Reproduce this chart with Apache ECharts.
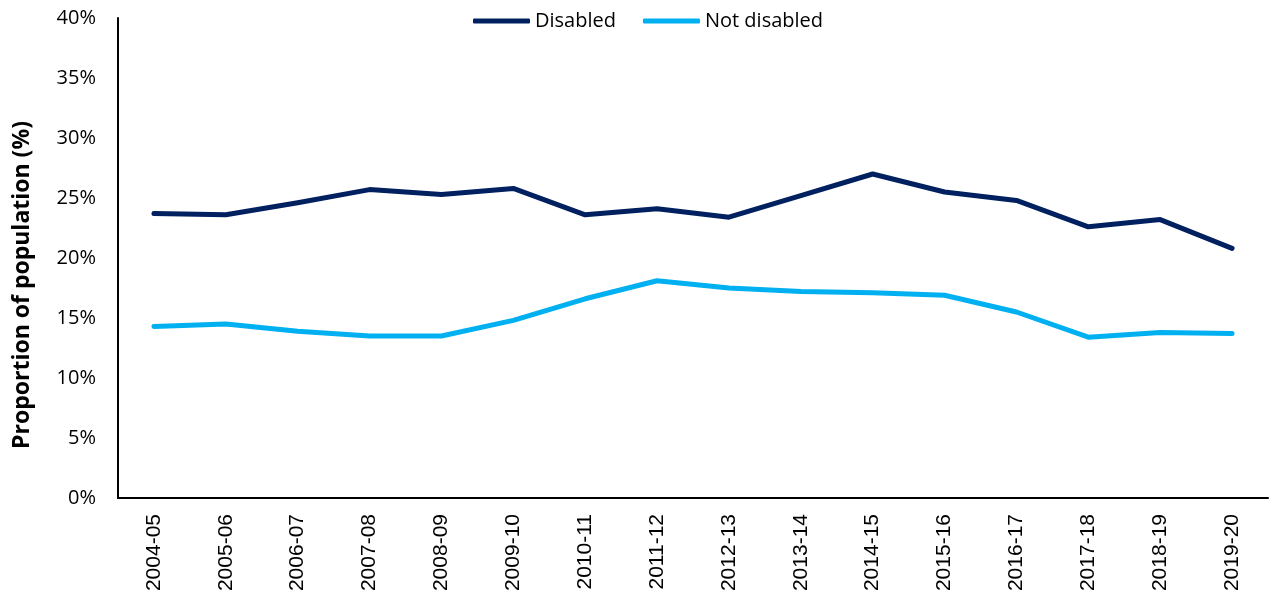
<!DOCTYPE html>
<html>
<head>
<meta charset="utf-8">
<script src="https://cdn.jsdelivr.net/npm/echarts@6/dist/echarts.min.js"></script>
<style>
  html, body { margin: 0; padding: 0; background: #fff; }
  #chart { width: 1269px; height: 599px; }
</style>
</head>
<body>
<div id="chart"></div>
<script>
// Financial years along the x axis
const years = ['2004-05', '2005-06', '2006-07', '2007-08', '2008-09', '2009-10', '2010-11', '2011-12',
               '2012-13', '2013-14', '2014-15', '2015-16', '2016-17', '2017-18', '2018-19', '2019-20'];

// Proportion of each group (%)
const disabled    = [23.7, 23.6, 24.6, 25.7, 25.3, 25.8, 23.6, 24.1, 23.4, 25.2, 27.0, 25.5, 24.8, 22.6, 23.2, 20.8];
const notDisabled = [14.3, 14.5, 13.9, 13.5, 13.5, 14.8, 16.6, 18.1, 17.5, 17.2, 17.1, 16.9, 15.5, 13.4, 13.8, 13.7];

// Y axis range and step
const yMin = 0, yMax = 40, yStep = 5;
const yTitle = 'Proportion of population (%)';

const chart = echarts.init(document.getElementById('chart'), null, { renderer: 'canvas' });

chart.setOption({
  animation: false,
  backgroundColor: '#ffffff',
  legend: {
    left: 473,
    top: 11,
    padding: 0,
    icon: 'roundRect',
    itemWidth: 57,
    itemHeight: 5,
    itemGap: 27,
    textStyle: { fontFamily: 'Open Sans', fontSize: 20, color: '#000' },
    data: ['Disabled', 'Not disabled']
  },
  // Rotated y-axis title, sitting a little below the plot's middle
  graphic: [{
    type: 'text',
    x: 22,
    y: 285,
    rotation: Math.PI / 2,
    style: {
      text: yTitle,
      fontFamily: 'Open Sans',
      fontSize: 23,
      fontWeight: 'bold',
      fill: '#000',
      align: 'center',
      verticalAlign: 'middle'
    }
  }],
  grid: { left: 118, top: 18, right: 1, bottom: 101, containLabel: false, outerBoundsMode: 'none' },
  xAxis: {
    type: 'category',
    data: years,
    boundaryGap: true,
    axisLine: { lineStyle: { color: '#000', width: 2 } },
    axisTick: { show: false },
    axisLabel: {
      rotate: 90,
      margin: 16,
      interval: 0,
      fontFamily: 'Liberation Sans',
      fontSize: 21,
      color: '#000'
    }
  },
  yAxis: {
    type: 'value',
    min: yMin,
    max: yMax,
    interval: yStep,
    axisLine: { show: true, lineStyle: { color: '#000', width: 2 } },
    axisTick: { show: false },
    splitLine: { show: false },
    axisLabel: {
      margin: 22,
      fontFamily: 'Open Sans',
      fontSize: 20,
      color: '#000',
      formatter: v => v + '%'
    }
  },
  series: [
    {
      name: 'Disabled',
      type: 'line',
      data: disabled,
      showSymbol: false,
      color: '#002060',
      lineStyle: { width: 5, color: '#002060', cap: 'round', join: 'round' }
    },
    {
      name: 'Not disabled',
      type: 'line',
      data: notDisabled,
      showSymbol: false,
      color: '#00B0F0',
      lineStyle: { width: 5, color: '#00B0F0', cap: 'round', join: 'round' }
    }
  ]
});
</script>
</body>
</html>
